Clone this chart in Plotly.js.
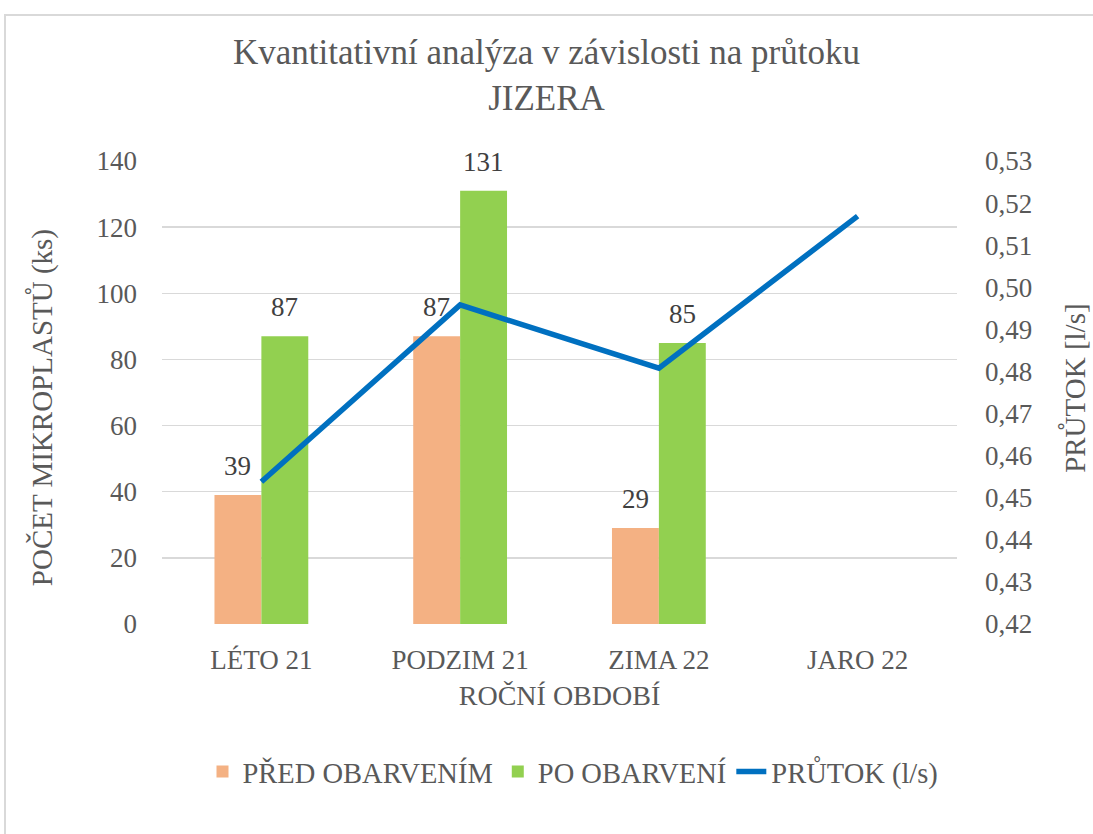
<!DOCTYPE html>
<html>
<head>
<meta charset="utf-8">
<script src="https://cdn.plot.ly/plotly-3.0.1.min.js"></script>
<style>
  html, body { margin: 0; padding: 0; background: #ffffff; overflow: hidden; }
  #frame { position: absolute; left: 4px; top: 14px; width: 1300px; height: 1000px;
           border: 2px solid #d9d9d9; box-sizing: border-box; }
  #chart { position: absolute; left: 0; top: 0; width: 1093px; height: 834px; }
</style>
</head>
<body>
<div id="frame"></div>
<div id="chart"></div>
<script>
// Data
const categories = ["LÉTO 21", "PODZIM 21", "ZIMA 22", "JARO 22"];
const predObarvenim = [39, 87, 29, null];
const poObarveni = [87, 131, 85, null];
const prutok = [0.4538, 0.4958, 0.4808, 0.5169];
const leftTicks = [0, 20, 40, 60, 80, 100, 120, 140];

const serif = "Liberation Serif";
const txt = "#595959";
const lbl = "#404040";

const traces = [
  {
    type: "bar", name: "PŘED OBARVENÍM", x: categories, y: predObarvenim,
    marker: { color: "#F4B183" }
  },
  {
    type: "bar", name: "PO OBARVENÍ", x: categories, y: poObarveni,
    marker: { color: "#92D050" }
  },
  {
    type: "scatter", mode: "lines", name: "PRŮTOK (l/s)", x: categories, y: prutok,
    yaxis: "y2", line: { color: "#0070C0", width: 5.5 }
  }
];

// data labels above bars, positioned on the axes' own scales
const bargap = 0.528;
const barHalf = (1 - bargap) / 4; // offset of each bar centre from category centre
const annotations = [];
predObarvenim.forEach((v, i) => {
  if (v == null) return;
  annotations.push({ x: i - barHalf, y: v, xref: "x", yref: "y", text: String(v),
    showarrow: false, yanchor: "middle", yshift: 29,
    font: { family: serif, size: 27, color: lbl } });
});
poObarveni.forEach((v, i) => {
  if (v == null) return;
  annotations.push({ x: i + barHalf, y: v, xref: "x", yref: "y", text: String(v),
    showarrow: false, yanchor: "middle", yshift: 29,
    font: { family: serif, size: 27, color: lbl } });
});
// axis titles
annotations.push({ text: "POČET MIKROPLASTŮ (ks)", xref: "paper", yref: "paper",
  x: (42 - 162) / 796, y: (624 - 408) / 463, xanchor: "center", yanchor: "middle",
  textangle: -90, showarrow: false, font: { family: serif, size: 29, color: txt } });
annotations.push({ text: "PRŮTOK [l/s]", xref: "paper", yref: "paper",
  x: (1075 - 162) / 796, y: (624 - 388) / 463, xanchor: "center", yanchor: "middle",
  textangle: -90, showarrow: false, font: { family: serif, size: 29, color: txt } });

const layout = {
  width: 1093, height: 834,
  paper_bgcolor: "rgba(0,0,0,0)", plot_bgcolor: "rgba(0,0,0,0)",
  margin: { l: 162, r: 136, t: 161, b: 210, pad: 0 },
  separators: ", ",
  font: { family: serif, color: txt, size: 27 },
  title: {
    text: "Kvantitativní analýza v závislosti na průtoku<br>JIZERA",
    font: { family: serif, size: 35, color: txt },
    x: 0.5, xanchor: "center", xref: "container",
    y: 1 - 64 / 834, yanchor: "top", yref: "container"
  },
  barmode: "group", bargap: bargap, bargroupgap: 0,
  showlegend: true,
  legend: {
    orientation: "h", x: 573 / 1093, xanchor: "center", xref: "container",
    y: 1 - 772 / 834, yanchor: "middle", yref: "container",
    font: { family: serif, size: 28.5, color: txt },
    traceorder: "normal", itemwidth: 30
  },
  xaxis: {
    type: "category", showgrid: false, zeroline: false, showline: false,
    ticks: "", tickfont: { family: serif, size: 27, color: txt },
    ticklabelstandoff: 17,
    title: { text: "ROČNÍ OBDOBÍ", font: { family: serif, size: 28, color: txt }, standoff: 11 }
  },
  yaxis: {
    range: [0, 140], tickvals: leftTicks, showgrid: true, gridcolor: "#d9d9d9", gridwidth: 1.5,
    zeroline: false, showline: false, ticks: "",
    tickfont: { family: serif, size: 27, color: txt }, ticklabelstandoff: 24
  },
  yaxis2: {
    overlaying: "y", side: "right", range: [0.42, 0.53], dtick: 0.01, tick0: 0.42,
    tickformat: ".2f", showgrid: false, zeroline: false, showline: false, ticks: "",
    tickfont: { family: serif, size: 27, color: txt }, ticklabelstandoff: 27
  },
  annotations: annotations,
  hovermode: false
};

Plotly.newPlot("chart", traces, layout, { displayModeBar: false, staticPlot: true });
</script>
</body>
</html>
